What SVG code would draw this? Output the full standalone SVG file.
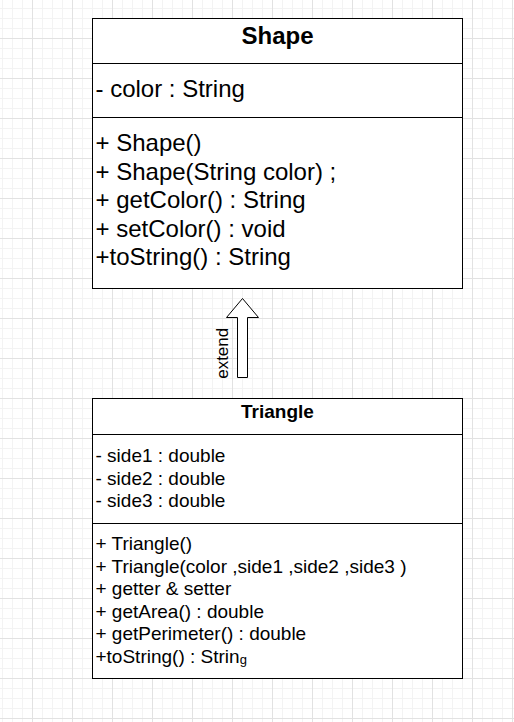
<svg xmlns="http://www.w3.org/2000/svg" width="514" height="722" viewBox="0 0 514 722">
  <defs>
    <pattern id="minor" x="2" y="8" width="10" height="10" patternUnits="userSpaceOnUse">
      <rect x="0" y="0" width="1" height="10" fill="#f3f3f3"/>
      <rect x="0" y="0" width="10" height="1" fill="#f3f3f3"/>
    </pattern>
    <pattern id="major" x="32" y="38" width="40" height="40" patternUnits="userSpaceOnUse">
      <rect x="0" y="0" width="1" height="40" fill="#e2e2e2"/>
      <rect x="0" y="0" width="40" height="1" fill="#e2e2e2"/>
    </pattern>
    <style>
      .box { fill: #ffffff; stroke: #000000; stroke-width: 1; }
      .div { stroke: #000000; stroke-width: 1; fill: none; }
      .t { font-family: "Liberation Sans", Arial, sans-serif; fill: #000000; }
      .big { font-size: 24px; }
      .small { font-size: 19px; }
      .title { font-weight: bold; text-anchor: middle; }
      .arrow { fill: #ffffff; stroke: #000000; stroke-width: 1; stroke-linejoin: miter; }
    </style>
  </defs>

  <rect width="514" height="722" fill="#ffffff"/>
  <rect width="514" height="722" fill="url(#minor)"/>
  <rect width="514" height="722" fill="url(#major)"/>

  <g id="shape">
    <rect class="box" x="92.5" y="18.5" width="370" height="270"/>
    <line class="div" x1="92.5" y1="63.5" x2="462.5" y2="63.5"/>
    <line class="div" x1="92.5" y1="117.5" x2="462.5" y2="117.5"/>
    <text class="t big title" x="277.5" y="43.5">Shape</text>
    <text class="t big" x="95.5" y="97">- color : String</text>
    <text class="t big" x="95.5" y="151">+ Shape()</text>
    <text class="t big" x="95.5" y="179.5">+ Shape(String color) ;</text>
    <text class="t big" x="95.5" y="208">+ getColor() : String</text>
    <text class="t big" x="95.5" y="236.5">+ setColor() : void</text>
    <text class="t big" x="95.5" y="265">+toString() : String</text>
  </g>

  <g id="triangle">
    <rect class="box" x="92.5" y="398.5" width="370" height="280"/>
    <line class="div" x1="92.5" y1="434.5" x2="462.5" y2="434.5"/>
    <line class="div" x1="92.5" y1="523.5" x2="462.5" y2="523.5"/>
    <text class="t small title" x="277.5" y="418">Triangle</text>
    <text class="t small" x="95.5" y="462">- side1 : double</text>
    <text class="t small" x="95.5" y="484.5">- side2 : double</text>
    <text class="t small" x="95.5" y="507">- side3 : double</text>
    <text class="t small" x="95.5" y="550">+ Triangle()</text>
    <text class="t small" x="95.5" y="572.5">+ Triangle(color ,side1 ,side2 ,side3 )</text>
    <text class="t small" x="95.5" y="595">+ getter &amp; setter</text>
    <text class="t small" x="95.5" y="617.5">+ getArea() : double</text>
    <text class="t small" x="95.5" y="640">+ getPerimeter() : double</text>
    <text class="t small" x="95.5" y="662.5">+toString() : Strin<tspan font-size="13" dy="1.5">g</tspan></text>
  </g>

  <g id="connectors">
    <g id="extend-arrow">
      <polygon class="arrow" points="242.5,298.5 258.5,317.5 247.5,317.5 247.5,377.5 237.5,377.5 237.5,317.5 226.5,317.5"/>
      <text class="t" font-size="17" text-anchor="middle" transform="translate(227.5,353.3) rotate(-90)">extend</text>
    </g>
  </g>
</svg>
